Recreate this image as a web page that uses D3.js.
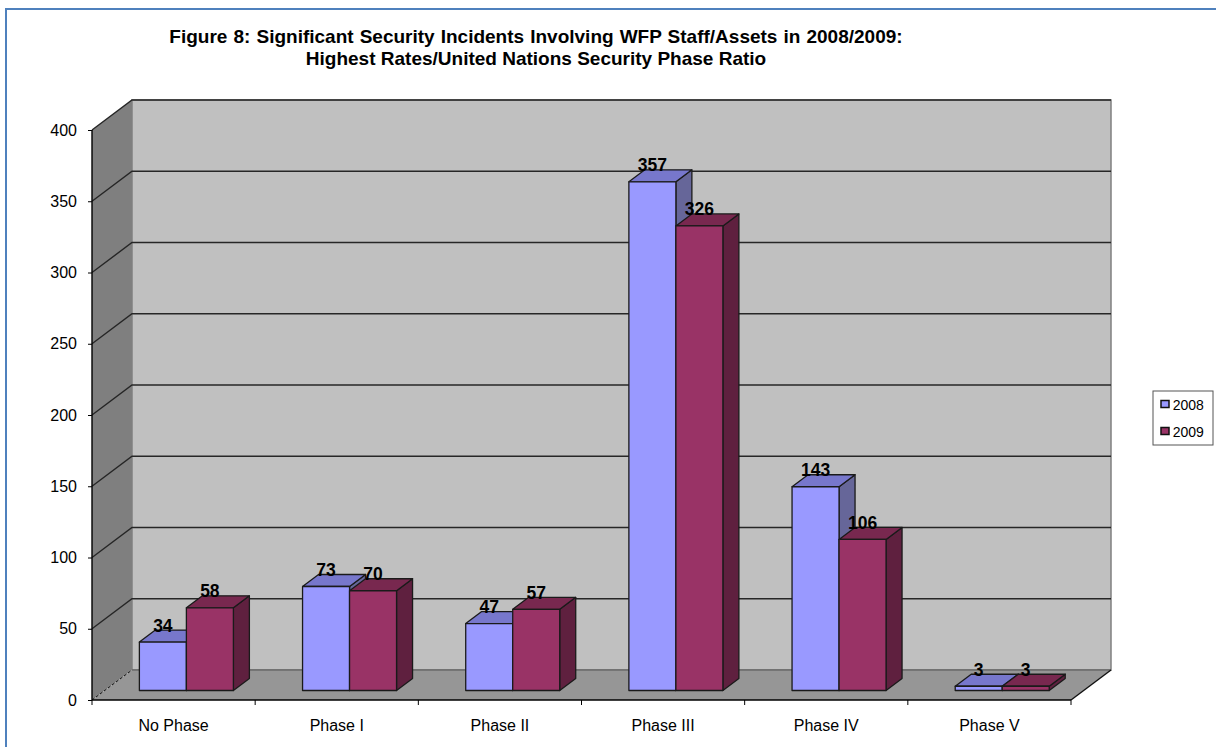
<!DOCTYPE html>
<html>
<head>
<meta charset="utf-8">
<style>
  html, body { margin: 0; padding: 0; background: #fff; }
  svg { display: block; }
  text { font-family: "Liberation Sans", Arial, sans-serif; fill: #000; }
</style>
<script src="https://cdn.jsdelivr.net/npm/d3@7/dist/d3.min.js"></script>
</head>
<body>
<svg id="chart" width="1216" height="747"></svg>
<script>
// Incident counts by UN security phase
const categories = ["No Phase", "Phase I", "Phase II", "Phase III", "Phase IV", "Phase V"];
const years = ["2008", "2009"];
const values2008 = [34, 73, 47, 357, 143, 3];
const values2009 = [58, 70, 57, 326, 106, 3];
const yTicks = [0, 50, 100, 150, 200, 250, 300, 350, 400];
const titleLines = [
  "Figure 8: Significant Security Incidents Involving WFP Staff/Assets in 2008/2009:",
  "Highest Rates/United Nations Security Phase Ratio"
];

const palette = {
  2008: { front: "#9999ff", top: "#7777cc", side: "#666699" },
  2009: { front: "#993366", top: "#78284f", side: "#5f203f" }
};

const svg = d3.select("#chart");

// Outer frame of the figure
svg.append("path")
  .attr("d", "M6,747V9H1216")
  .attr("fill", "none").attr("stroke", "#4f81bd").attr("stroke-width", 2);

// Plot box: front edge of the floor and the oblique offset to the back wall
const plot = { left: 92, right: 1071, bottom: 700, top: 130 };
const depth = { dx: 40, dy: -30 };
const barDepth = { dx: 16, dy: -12 };
const barInset = { dx: 12.8, dy: -9.5 };

const x = d3.scaleBand().domain(categories).range([plot.left, plot.right]);
const y = d3.scaleLinear().domain([0, 400]).range([plot.bottom, plot.top]);
const inner = d3.scaleBand().domain(years).range([0, 94]);
const barOffset = (x.bandwidth() - inner.range()[1]) / 2 + barInset.dx;

const poly = pts => "M" + pts.map(p => p.join(",")).join("L") + "Z";

const walls = svg.append("g");
// Side wall
walls.append("path")
  .attr("d", poly([[plot.left, y(0)], [plot.left + depth.dx, y(0) + depth.dy],
                   [plot.left + depth.dx, y(400) + depth.dy], [plot.left, y(400)]]))
  .attr("fill", "#7f7f7f");
// Back wall
walls.append("rect")
  .attr("x", plot.left + depth.dx).attr("y", y(400) + depth.dy)
  .attr("width", plot.right - plot.left).attr("height", y(0) - y(400))
  .attr("fill", "#c0c0c0").attr("stroke", "#808080").attr("stroke-width", 1.5);
// Floor
walls.append("path")
  .attr("d", poly([[plot.left, y(0)], [plot.right, y(0)],
                   [plot.right + depth.dx, y(0) + depth.dy], [plot.left + depth.dx, y(0) + depth.dy]]))
  .attr("fill", "#969696");

// Gridlines wrap from the side wall across the back wall
const grid = svg.append("g").attr("fill", "none");
grid.selectAll("path").data(yTicks.filter(d => d > 0)).join("path")
  .attr("d", d => `M${plot.left},${y(d)}L${plot.left + depth.dx},${y(d) + depth.dy}H${plot.right + depth.dx}`)
  .attr("stroke", "#262626")
  .attr("stroke-width", 1.4);
// Zero level: dashed along the side wall, solid where floor meets back wall
grid.append("path")
  .attr("d", `M${plot.left},${y(0)}L${plot.left + depth.dx},${y(0) + depth.dy}`)
  .attr("stroke", "#111").attr("stroke-dasharray", "3,2");
grid.append("path")
  .attr("d", `M${plot.left + depth.dx},${y(0) + depth.dy}H${plot.right + depth.dx}`)
  .attr("stroke", "#555").attr("stroke-width", 1.2);
// Far edge of the floor
svg.append("path")
  .attr("d", `M${plot.right},${y(0)}L${plot.right + depth.dx},${y(0) + depth.dy}`)
  .attr("stroke", "#111").attr("stroke-width", 1.4).attr("fill", "none");

// Axes
const yAxis = d3.axisLeft(y).tickValues(yTicks).tickSize(4).tickPadding(11).tickFormat(d3.format("d"));
const gy = svg.append("g").attr("transform", `translate(${plot.left},0)`).call(yAxis);
const xAxis = d3.axisBottom(x).tickSize(0).tickPadding(19.5);
const gx = svg.append("g").attr("transform", `translate(0,${plot.bottom})`).call(xAxis);
// Ticks fall on the category boundaries rather than the centres
gx.selectAll(".tick line").remove();
gx.append("g").selectAll("line").data([...categories.map(c => x(c)), plot.right]).join("line")
  .attr("x1", d => d).attr("x2", d => d).attr("y1", 0).attr("y2", 5)
  .attr("stroke", "#000");
[gx, gy].forEach(g => {
  g.selectAll("text").attr("font-size", 16).attr("font-family", '"Liberation Sans", Arial, sans-serif').attr("fill", "#000");
  g.select(".domain").attr("stroke", "#000").attr("stroke-width", 1.4);
  g.selectAll("line").attr("stroke", "#000");
});
gy.select(".domain").attr("d", `M${plot.left},${y(0)}V${y(400)}`).attr("transform", `translate(${-plot.left},0)`);
gx.select(".domain").attr("d", `M${plot.left},0H${plot.right}`);

// One flat record per column
const bars = categories.flatMap((c, i) => [
  { cat: c, year: "2008", value: values2008[i] },
  { cat: c, year: "2009", value: values2009[i] }
]);

const barG = svg.append("g").selectAll("g").data(bars).join("g")
  .attr("stroke", "#1a1a1a").attr("stroke-width", 1.3).attr("stroke-linejoin", "round");

const geom = d => {
  const x0 = x(d.cat) + barOffset + inner(d.year);
  const w = inner.bandwidth();
  const yb = y(0) + barInset.dy;
  const yt = yb - (y(0) - y(d.value));
  return { x0, x1: x0 + w, yb, yt };
};

barG.append("path").attr("fill", d => palette[d.year].side).attr("d", d => {
  const g = geom(d);
  return poly([[g.x1, g.yb], [g.x1 + barDepth.dx, g.yb + barDepth.dy],
               [g.x1 + barDepth.dx, g.yt + barDepth.dy], [g.x1, g.yt]]);
});
barG.append("path").attr("fill", d => palette[d.year].top).attr("d", d => {
  const g = geom(d);
  return poly([[g.x0, g.yt], [g.x1, g.yt],
               [g.x1 + barDepth.dx, g.yt + barDepth.dy], [g.x0 + barDepth.dx, g.yt + barDepth.dy]]);
});
barG.append("rect").attr("fill", d => palette[d.year].front)
  .attr("x", d => geom(d).x0).attr("y", d => geom(d).yt)
  .attr("width", inner.bandwidth()).attr("height", d => geom(d).yb - geom(d).yt);

// Value labels sit above each column's top face
svg.append("g").selectAll("text").data(bars).join("text")
  .attr("x", d => (geom(d).x0 + geom(d).x1) / 2)
  .attr("y", d => geom(d).yt - 10.5)
  .attr("text-anchor", "middle")
  .attr("font-size", 17.5).attr("font-weight", "bold")
  .text(d => d.value);

// Title
svg.append("g").selectAll("text").data(titleLines).join("text")
  .attr("x", 536).attr("y", (d, i) => 43 + i * 22)
  .attr("text-anchor", "middle")
  .attr("font-size", 19).attr("font-weight", "bold")
  .attr("word-spacing", (d, i) => i === 0 ? 0.8 : 0)
  .text(d => d);

// Legend
const legend = svg.append("g");
legend.append("rect")
  .attr("x", 1153).attr("y", 391).attr("width", 60).attr("height", 54)
  .attr("fill", "#fff").attr("stroke", "#555");
const row = legend.selectAll("g").data(years).join("g")
  .attr("transform", (d, i) => `translate(1161,${404 + i * 27})`);
row.append("rect").attr("x", 0).attr("y", -3.5).attr("width", 8).attr("height", 7)
  .attr("fill", d => palette[d].front).attr("stroke", "#111").attr("stroke-width", 1.5);
row.append("text").attr("x", 11.7).attr("y", 6).attr("font-size", 14).text(d => d);
</script>
</body>
</html>
